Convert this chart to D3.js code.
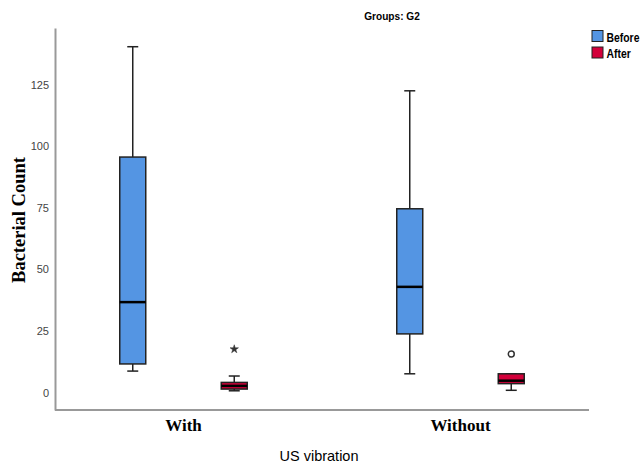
<!DOCTYPE html>
<html>
<head>
<meta charset="utf-8">
<script src="https://cdn.jsdelivr.net/npm/d3@7"></script>
<style>
  body { margin: 0; background: #fff; }
  svg { display: block; }
</style>
</head>
<body>
<svg id="chart" width="644" height="463"></svg>
<script>
// data
var categories = ["With", "Without"];
var series = ["Before", "After"];
var seriesColors = ["#5495e3", "#d2003a"];
// [low whisker, q1, median, q3, high whisker] per category
var beforeStats = [[8.7, 11.6, 36.7, 95.6, 140.4], [7.6, 23.8, 42.9, 74.6, 122.5]];
var afterStats = [[0.7, 1.4, 2.7, 4.1, 6.7], [0.9, 3.6, 4.8, 7.6, 7.6]];
// outliers: "star" = extreme, "circle" = outlier
var beforeOutliers = [[], []];
var afterOutliers = [[{ v: 17.6, kind: "star" }], [{ v: 15.6, kind: "circle" }]];
var yTicks = [0, 25, 50, 75, 100, 125];

var statsBySeries = [beforeStats, afterStats];
var outliersBySeries = [beforeOutliers, afterOutliers];

var svg = d3.select("#chart");

var x0 = d3.scaleBand().domain(categories).range([45, 599]);
var x1 = d3.scaleBand().domain(series).range([37, 240]);
var y = d3.scaleLinear().domain([-7.1, 148]).range([410, 28]);
var boxW = 26, capW = 11;

// axes
var yAxis = svg.append("g")
    .attr("transform", "translate(55,0)")
    .call(d3.axisLeft(y).tickValues(yTicks).tickSize(0).tickPadding(6));
yAxis.select(".domain").attr("stroke", "#999").attr("stroke-width", 2);
yAxis.selectAll("text")
    .attr("font-family", "Liberation Sans, Arial, sans-serif")
    .attr("font-size", 11)
    .attr("fill", "#444");

svg.append("line")
    .attr("x1", 55).attr("x2", 589)
    .attr("y1", 410).attr("y2", 410)
    .attr("stroke", "#999").attr("stroke-width", 2);

svg.selectAll(".cat-label")
  .data(categories)
  .enter().append("text")
    .attr("class", "cat-label")
    .attr("x", function(d) { return x0(d) + x0.bandwidth() / 2; })
    .attr("y", 431)
    .attr("text-anchor", "middle")
    .attr("font-family", "Liberation Serif, Times New Roman, serif")
    .attr("font-weight", "bold")
    .attr("font-size", 17)
    .text(function(d) { return d; });

// boxes
var items = [];
categories.forEach(function(c, ci) {
  series.forEach(function(s, si) {
    var st = statsBySeries[si][ci];
    items.push({ cat: c, ser: s, si: si, low: st[0], q1: st[1], med: st[2], q3: st[3], high: st[4],
                 outliers: outliersBySeries[si][ci] });
  });
});

var g = svg.selectAll(".box")
  .data(items)
  .enter().append("g")
    .attr("class", "box")
    .attr("transform", function(d) {
      return "translate(" + (x0(d.cat) + x1(d.ser) + x1.bandwidth() / 2) + ",0)";
    });

g.append("line")
    .attr("x1", 0).attr("x2", 0)
    .attr("y1", function(d) { return y(d.high); })
    .attr("y2", function(d) { return y(d.q3); })
    .attr("stroke", "#222").attr("stroke-width", 1.5);
g.append("line")
    .attr("x1", 0).attr("x2", 0)
    .attr("y1", function(d) { return y(d.q1); })
    .attr("y2", function(d) { return y(d.low); })
    .attr("stroke", "#222").attr("stroke-width", 1.5);
g.append("line")
    .attr("x1", -capW / 2).attr("x2", capW / 2)
    .attr("y1", function(d) { return y(d.high); })
    .attr("y2", function(d) { return y(d.high); })
    .attr("stroke", "#222").attr("stroke-width", 1.5);
g.append("line")
    .attr("x1", -capW / 2).attr("x2", capW / 2)
    .attr("y1", function(d) { return y(d.low); })
    .attr("y2", function(d) { return y(d.low); })
    .attr("stroke", "#222").attr("stroke-width", 1.5);

g.append("rect")
    .attr("x", -boxW / 2).attr("width", boxW)
    .attr("y", function(d) { return y(d.q3); })
    .attr("height", function(d) { return y(d.q1) - y(d.q3); })
    .attr("fill", function(d) { return seriesColors[d.si]; })
    .attr("stroke", "#222").attr("stroke-width", 1.5);

g.append("line")
    .attr("x1", -boxW / 2).attr("x2", boxW / 2)
    .attr("y1", function(d) { return y(d.med); })
    .attr("y2", function(d) { return y(d.med); })
    .attr("stroke", "#000").attr("stroke-width", 2.5);

g.selectAll(".out")
  .data(function(d) { return d.outliers; })
  .enter().append("path")
    .attr("class", "out")
    .attr("transform", function(o) { return "translate(0," + y(o.v) + ")"; })
    .attr("d", function(o) {
      return o.kind === "star" ? d3.symbol(d3.symbolStar, 22)() : d3.symbol(d3.symbolCircle, 28)();
    })
    .attr("fill", function(o) { return o.kind === "star" ? "#333" : "none"; })
    .attr("stroke", "#333")
    .attr("stroke-width", function(o) { return o.kind === "star" ? 0.5 : 1.5; });

// titles (narrow look: squeeze horizontally)
svg.append("text")
    .attr("transform", "translate(392,20) scale(0.88,1)")
    .attr("text-anchor", "middle")
    .attr("font-family", "Liberation Sans, Arial, sans-serif")
    .attr("font-weight", "bold")
    .attr("font-size", 11.5)
    .text("Groups: G2");

svg.append("text")
    .attr("transform", "translate(25,220) rotate(-90)")
    .attr("text-anchor", "middle")
    .attr("font-family", "Liberation Serif, Times New Roman, serif")
    .attr("font-weight", "bold")
    .attr("font-size", 18.5)
    .text("Bacterial Count");

svg.append("text")
    .attr("x", 319).attr("y", 461)
    .attr("text-anchor", "middle")
    .attr("font-family", "Liberation Sans, Arial, sans-serif")
    .attr("font-size", 14.5)
    .text("US vibration");

// legend
var legend = svg.selectAll(".legend")
  .data(series)
  .enter().append("g")
    .attr("class", "legend")
    .attr("transform", function(d, i) { return "translate(592," + (30.5 + i * 16.5) + ")"; });
legend.append("rect")
    .attr("width", 11).attr("height", 11)
    .attr("fill", function(d, i) { return seriesColors[i]; })
    .attr("stroke", "#222").attr("stroke-width", 1);
legend.append("text")
    .attr("transform", "translate(14.5,11) scale(0.8,1)")
    .attr("font-family", "Liberation Sans, Arial, sans-serif")
    .attr("font-weight", "bold")
    .attr("font-size", 13)
    .text(function(d) { return d; });
</script>
</body>
</html>
